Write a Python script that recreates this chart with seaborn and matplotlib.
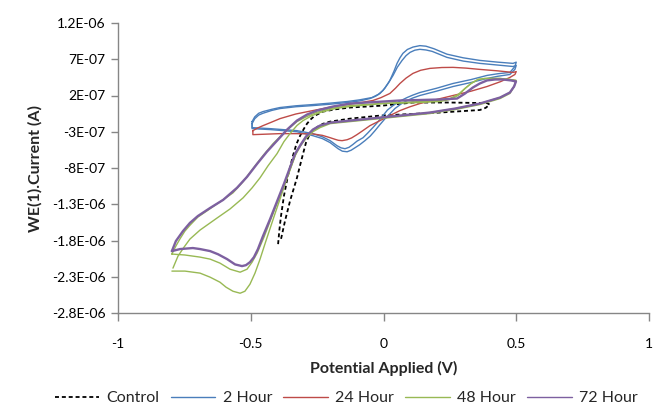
import numpy as np
import pandas as pd
import matplotlib
matplotlib.use("Agg")
import matplotlib.pyplot as plt
import seaborn as sns
from matplotlib.lines import Line2D

# ---------------- data (potential in V, current in µA) ----------------
control_v = [-0.397, -0.392, -0.386, -0.375, -0.360, -0.341, -0.328, -0.314, -0.300, -0.288, -0.273, -0.258, -0.228,
             -0.180, -0.126, -0.002, 0.111, 0.250, 0.390, 0.400, 0.385, 0.363, 0.213, -0.013, -0.126, -0.201, -0.228,
             -0.247, -0.263, -0.277, -0.292, -0.307, -0.326, -0.352, -0.371, -0.386]
control_i = [-1.85, -1.65, -1.46, -1.185, -0.908, -0.631, -0.47, -0.354, -0.26, -0.188, -0.125, -0.077, -0.022,
             0.010, 0.034, 0.061, 0.103, 0.103, 0.095, 0.075, 0.030, 0.000, -0.035, -0.077, -0.119, -0.160, -0.19,
             -0.229, -0.27, -0.326, -0.45, -0.659, -0.936, -1.254, -1.531, -1.78]

h2_c1_v = [-0.495, -0.485, -0.470, -0.454, -0.420, -0.390, -0.330, -0.266, -0.200, -0.137, -0.090, -0.051, -0.030,
           -0.013, 0.005, 0.024, 0.040, 0.051, 0.062, 0.073, 0.090, 0.111, 0.137, 0.160, 0.190, 0.239, 0.300, 0.363,
           0.430, 0.488, 0.500,
           0.495, 0.476, 0.430, 0.390, 0.330, 0.262, 0.200, 0.137, 0.110, 0.089, 0.060, 0.036, 0.015, -0.002, -0.020,
           -0.040, -0.060, -0.077, -0.100, -0.115, -0.130, -0.145, -0.160, -0.175, -0.201, -0.230, -0.266, -0.326,
           -0.427, -0.495, -0.495]
h2_c1_i = [-0.188, -0.120, -0.070, -0.045, -0.005, 0.020, 0.045, 0.061, 0.080, 0.103, 0.125, 0.158, 0.190,
           0.228, 0.300, 0.408, 0.540, 0.643, 0.720, 0.781, 0.835, 0.868, 0.888, 0.880, 0.845, 0.770, 0.720, 0.684,
           0.660, 0.643, 0.660,
           0.600, 0.518, 0.500, 0.477, 0.420, 0.366, 0.300, 0.241, 0.205, 0.172, 0.120, 0.061, 0.000, -0.077, -0.160,
           -0.243, -0.320, -0.382, -0.430, -0.475, -0.515, -0.534, -0.522, -0.493, -0.423, -0.370, -0.326, -0.285,
           -0.257, -0.243, -0.188]
h2_c2_v = [-0.495, -0.485, -0.470, -0.454, -0.420, -0.390, -0.330, -0.266, -0.200, -0.137, -0.090, -0.043, -0.020,
           -0.002, 0.018, 0.036, 0.052, 0.070, 0.085, 0.100, 0.118, 0.137, 0.160, 0.183, 0.239, 0.300, 0.363, 0.430,
           0.488, 0.500,
           0.495, 0.476, 0.430, 0.390, 0.330, 0.262, 0.200, 0.137, 0.110, 0.089, 0.065, 0.043, 0.025, 0.006, -0.013,
           -0.032, -0.050, -0.070, -0.090, -0.107, -0.122, -0.137, -0.155, -0.171, -0.201, -0.230, -0.266, -0.326,
           -0.427, -0.495, -0.495]
h2_c2_i = [-0.160, -0.095, -0.045, -0.022, 0.010, 0.034, 0.058, 0.075, 0.095, 0.117, 0.140, 0.172, 0.215,
           0.269, 0.370, 0.477, 0.590, 0.684, 0.750, 0.795, 0.825, 0.837, 0.828, 0.809, 0.726, 0.675, 0.643, 0.620,
           0.600, 0.615,
           0.560, 0.490, 0.465, 0.435, 0.380, 0.324, 0.260, 0.200, 0.165, 0.131, 0.080, 0.020, -0.050, -0.119, -0.200,
           -0.285, -0.360, -0.423, -0.480, -0.520, -0.555, -0.576, -0.568, -0.534, -0.450, -0.395, -0.354, -0.300,
           -0.270, -0.257, -0.160]

h24_v = [-0.492, -0.475, -0.454, -0.420, -0.390, -0.330, -0.266, -0.200, -0.137, -0.090, -0.040, -0.010, 0.024,
         0.045, 0.062, 0.085, 0.111, 0.140, 0.175, 0.220, 0.262, 0.310, 0.363, 0.430, 0.488, 0.500,
         0.495, 0.476, 0.440, 0.390, 0.330, 0.262, 0.200, 0.137, 0.100, 0.062, 0.025, -0.013, -0.051, -0.080, -0.100,
         -0.120, -0.137, -0.156, -0.170, -0.182, -0.201, -0.230, -0.266, -0.330, -0.390, -0.492, -0.492]
h24_i = [-0.285, -0.250, -0.216, -0.165, -0.119, -0.055, -0.008, 0.040, 0.075, 0.100, 0.131, 0.170, 0.228,
         0.300, 0.366, 0.440, 0.505, 0.548, 0.574, 0.586, 0.588, 0.578, 0.560, 0.540, 0.518, 0.530,
         0.490, 0.449, 0.390, 0.324, 0.260, 0.200, 0.145, 0.089, 0.045, -0.008, -0.075, -0.146, -0.216, -0.290, -0.340,
         -0.385, -0.410, -0.423, -0.418, -0.405, -0.382, -0.350, -0.330, -0.326, -0.326, -0.340, -0.285]

h48_c1_v = [-0.793, -0.774, -0.751, -0.729, -0.691, -0.627, -0.578, -0.529, -0.495, -0.465, -0.435, -0.401, -0.375,
            -0.352, -0.326, -0.303, -0.269, -0.239, -0.182, -0.126, -0.002, 0.137, 0.213, 0.250, 0.281, 0.307, 0.330,
            0.356, 0.382, 0.439, 0.476, 0.499,
            0.492, 0.476, 0.439, 0.363, 0.270, 0.175, -0.013, -0.164, -0.201, -0.239, -0.266, -0.292, -0.311, -0.326,
            -0.360, -0.409, -0.443, -0.465, -0.484, -0.503, -0.522, -0.540, -0.567, -0.593, -0.616, -0.653, -0.691,
            -0.748, -0.797]
h48_c1_i = [-2.181, -2.015, -1.890, -1.780, -1.656, -1.490, -1.365, -1.212, -1.074, -0.935, -0.770, -0.602, -0.436,
            -0.325, -0.214, -0.146, -0.077, -0.035, 0.020, 0.048, 0.089, 0.103, 0.117, 0.145, 0.200, 0.297, 0.366,
            0.421, 0.435, 0.435, 0.421, 0.408,
            0.325, 0.228, 0.158, 0.075, 0.006, -0.049, -0.119, -0.174, -0.188, -0.243, -0.300, -0.395, -0.478, -0.562,
            -0.908, -1.434, -1.808, -2.057, -2.250, -2.403, -2.500, -2.527, -2.500, -2.444, -2.375, -2.306, -2.250,
            -2.222, -2.222]
h48_c2_v = [-0.797, -0.782, -0.767, -0.748, -0.729, -0.699, -0.665, -0.616, -0.567, -0.529, -0.492, -0.454, -0.416,
            -0.382, -0.352, -0.326, -0.296, -0.254, -0.201, -0.126, -0.013, 0.137, 0.213, 0.250, 0.281, 0.307, 0.330,
            0.356, 0.382, 0.439, 0.476, 0.499,
            0.492, 0.476, 0.439, 0.363, 0.270, 0.175, -0.013, -0.164, -0.201, -0.239, -0.266, -0.292, -0.314, -0.333,
            -0.375, -0.427, -0.450, -0.476, -0.495, -0.514, -0.540, -0.578, -0.616, -0.653, -0.691, -0.748, -0.797]
h48_c2_i = [-1.987, -1.877, -1.780, -1.670, -1.590, -1.476, -1.391, -1.267, -1.143, -0.990, -0.810, -0.630, -0.464,
            -0.340, -0.241, -0.160, -0.103, -0.035, 0.020, 0.061, 0.089, 0.117, 0.131, 0.158, 0.213, 0.297, 0.366,
            0.421, 0.435, 0.435, 0.421, 0.408,
            0.325, 0.241, 0.172, 0.089, 0.020, -0.035, -0.105, -0.160, -0.174, -0.229, -0.285, -0.380, -0.505, -0.631,
            -1.047, -1.531, -1.753, -1.974, -2.099, -2.196, -2.237, -2.196, -2.112, -2.057, -2.029, -2.000, -1.987]

h72_v = [-0.797, -0.782, -0.755, -0.729, -0.699, -0.653, -0.604, -0.552, -0.514, -0.476, -0.439, -0.401, -0.363,
         -0.326, -0.288, -0.251, -0.190, -0.126, 0.062, 0.213, 0.277, 0.307, 0.337, 0.363, 0.390, 0.420, 0.450, 0.480,
         0.499,
         0.492, 0.476, 0.439, 0.363, 0.270, 0.175, -0.013, -0.164, -0.200, -0.239, -0.266, -0.292, -0.314, -0.333,
         -0.375, -0.427, -0.454, -0.473, -0.488, -0.503, -0.518, -0.533, -0.559, -0.589, -0.623, -0.653, -0.691,
         -0.718, -0.766, -0.797]
h72_i = [-1.946, -1.808, -1.669, -1.557, -1.462, -1.351, -1.240, -1.074, -0.922, -0.742, -0.575, -0.423, -0.270,
         -0.146, -0.063, -0.008, 0.048, 0.089, 0.131, 0.145, 0.158, 0.227, 0.311, 0.366, 0.408, 0.421, 0.421, 0.408,
         0.394,
         0.325, 0.241, 0.172, 0.089, 0.020, -0.035, -0.105, -0.160, -0.174, -0.214, -0.270, -0.366, -0.490, -0.603,
         -1.019, -1.503, -1.740, -1.919, -2.030, -2.099, -2.140, -2.153, -2.130, -2.057, -1.990, -1.946, -1.918,
         -1.904, -1.918, -1.946]

series_names = ["Control", "2 Hour", "24 Hour", "48 Hour", "72 Hour"]
x_ticks = [-1, -0.5, 0, 0.5, 1]
x_tick_labels = ["-1", "-0.5", "0", "0.5", "1"]
y_ticks = [1.2e-06, 7e-07, 2e-07, -3e-07, -8e-07, -1.3e-06, -1.8e-06, -2.3e-06, -2.8e-06]
y_tick_labels = ["1.2E-06", "7E-07", "2E-07", "-3E-07", "-8E-07", "-1.3E-06", "-1.8E-06", "-2.3E-06", "-2.8E-06"]

# ---------------- build long table ----------------
segments = [
    ("Control", "c1", control_v, control_i),
    ("2 Hour", "c1", h2_c1_v, h2_c1_i),
    ("2 Hour", "c2", h2_c2_v, h2_c2_i),
    ("24 Hour", "c1", h24_v, h24_i),
    ("48 Hour", "c1", h48_c1_v, h48_c1_i),
    ("48 Hour", "c2", h48_c2_v, h48_c2_i),
    ("72 Hour", "c1", h72_v, h72_i),
]
rows = []
for name, cyc, v, i in segments:
    for k, (vv, ii) in enumerate(zip(v, i)):
        rows.append({"series": name, "cycle": cyc, "order": k, "V": vv, "I": ii * 1e-6})
df = pd.DataFrame(rows)

colors = {"Control": "#000000", "2 Hour": "#4A7EBB", "24 Hour": "#BE4B48",
          "48 Hour": "#98B954", "72 Hour": "#7D60A0"}
widths = {"Control": 1.3, "2 Hour": 1.0, "24 Hour": 1.0, "48 Hour": 1.0, "72 Hour": 1.7}
dashes = {"Control": (2.2, 1.6)}

sns.set_style("white")
plt.rcParams["font.family"] = ["Lato", "DejaVu Sans"]

fig = plt.figure(figsize=(6.53, 4.08), dpi=100)
ax = fig.add_axes([118 / 653, 1 - 313 / 408, 531 / 653, 290 / 408])

for name in ["Control", "2 Hour", "24 Hour", "48 Hour", "72 Hour"]:
    sub = df[df["series"] == name]
    for cyc, g in sub.groupby("cycle"):
        g = g.sort_values("order")
        sns.lineplot(data=g, x="V", y="I", sort=False, estimator=None, ax=ax,
                     color=colors[name], linewidth=widths[name], legend=False)
        ln = ax.lines[-1]
        ln.set_solid_joinstyle("round")
        ln.set_solid_capstyle("round")
        if name == "Control":
            ln.set_dashes(dashes["Control"])

ax.set_xlim(-1, 1)
ax.set_ylim(-2.8e-06, 1.2e-06)
ax.set_xticks(x_ticks)
ax.set_xticklabels(x_tick_labels)
ax.set_yticks(y_ticks)
ax.set_yticklabels(y_tick_labels)

spine_c = "#868686"
for s in ["top", "right"]:
    ax.spines[s].set_visible(False)
for s in ["left", "bottom"]:
    ax.spines[s].set_color(spine_c)
    ax.spines[s].set_linewidth(1.0)
ax.tick_params(axis="x", direction="out", length=6, width=1, color=spine_c, pad=12,
               labelsize=10, labelcolor="#000000")
ax.tick_params(axis="y", direction="out", length=5, width=1, color=spine_c, pad=4,
               labelsize=10, labelcolor="#000000")
ax.tick_params(bottom=True, left=True)

ax.set_xlabel("Potential Applied (V)", fontsize=11.5, fontweight="bold", labelpad=8)
ax.set_ylabel("WE(1).Current (A)", fontsize=11.5, fontweight="bold", labelpad=7)

handles = []
for name in series_names:
    ln = Line2D([0], [0], color=colors[name], linewidth=1.3 if name == "Control" else 1.0)
    if name == "Control":
        ln.set_dashes(dashes["Control"])
    handles.append(ln)
fig.legend(handles, series_names, loc="center", bbox_to_anchor=(0.53, 0.024), ncol=5,
           frameon=False, fontsize=11.5, handlelength=2.8, handletextpad=0.45, columnspacing=0.7)

fig.savefig("out.png", dpi=100)
